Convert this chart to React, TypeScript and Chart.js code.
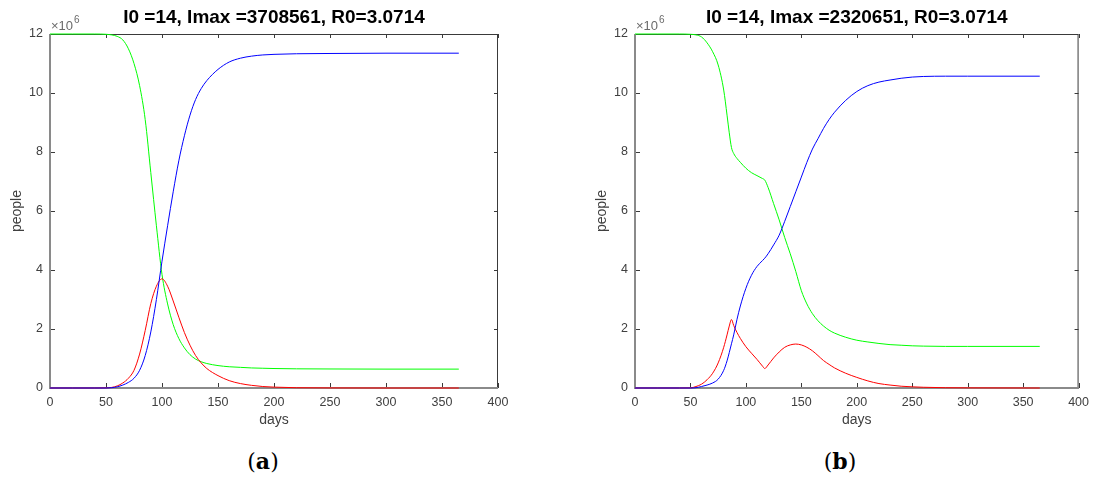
import { useEffect, useRef } from "react";
import { Chart, registerables } from "chart.js";

Chart.register(...registerables);

// ---------- texts & ticks ----------
const xTickValues = [0, 50, 100, 150, 200, 250, 300, 350, 400];
const yTickValues = [0, 2, 4, 6, 8, 10, 12];
const titleA = "I0 =14, Imax =3708561, R0=3.0714";
const titleB = "I0 =14, Imax =2320651, R0=3.0714";
const xAxisLabel = "days";
const yAxisLabel = "people";
const exponentBase = "×10";
const exponentPower = "6";
const captionA = "a";
const captionB = "b";

// ---------- panel (a) data, values in millions of people ----------
const daysA = [0, 20, 40, 50, 55, 60, 65, 70, 75, 80, 85, 90, 95, 100, 105, 110, 115, 120, 125, 130, 135, 140, 150, 160, 170, 180, 190, 200, 220, 250, 300, 365];
const susceptibleA = [12, 12, 12, 11.99, 11.97, 11.92, 11.8, 11.5, 11.0, 10.25, 9.1, 7.3, 5.5, 3.85, 2.85, 2.15, 1.68, 1.36, 1.13, 0.98, 0.89, 0.83, 0.76, 0.72, 0.7, 0.68, 0.67, 0.66, 0.65, 0.645, 0.64, 0.64];
const infectedA = [0, 0, 0, 0.005, 0.02, 0.07, 0.17, 0.33, 0.6, 1.15, 1.95, 2.86, 3.45, 3.7, 3.45, 2.95, 2.4, 1.88, 1.45, 1.1, 0.85, 0.66, 0.42, 0.25, 0.15, 0.09, 0.05, 0.03, 0.01, 0.003, 0, 0];
const recoveredA = [0, 0, 0, 0, 0.01, 0.04, 0.1, 0.19, 0.33, 0.6, 1.1, 1.9, 3.0, 4.3, 5.5, 6.65, 7.7, 8.55, 9.25, 9.78, 10.15, 10.42, 10.8, 11.05, 11.18, 11.25, 11.29, 11.31, 11.33, 11.34, 11.35, 11.35];

// ---------- panel (b) data, values in millions of people ----------
const daysB = [0, 20, 40, 50, 55, 60, 65, 70, 75, 80, 83, 85, 87, 89, 92, 95, 100, 105, 110, 115, 117, 120, 125, 130, 135, 140, 145, 150, 155, 160, 165, 170, 175, 180, 190, 200, 210, 220, 230, 240, 250, 260, 280, 300, 365];
const susceptibleB = [12, 12, 12, 11.99, 11.97, 11.9, 11.7, 11.4, 10.95, 10.1, 9.25, 8.65, 8.15, 7.95, 7.78, 7.65, 7.45, 7.3, 7.2, 7.1, 7.05, 6.8, 6.25, 5.7, 5.1, 4.55, 3.95, 3.3, 2.85, 2.52, 2.28, 2.1, 1.96, 1.86, 1.72, 1.62, 1.56, 1.51, 1.47, 1.45, 1.43, 1.42, 1.41, 1.41, 1.41];
const infectedB = [0, 0, 0, 0.005, 0.05, 0.13, 0.28, 0.5, 0.85, 1.38, 1.8, 2.1, 2.32, 2.12, 1.88, 1.68, 1.4, 1.18, 0.97, 0.74, 0.66, 0.78, 1.02, 1.22, 1.38, 1.46, 1.49, 1.46, 1.38, 1.26, 1.1, 0.93, 0.8, 0.68, 0.5, 0.36, 0.24, 0.15, 0.1, 0.06, 0.04, 0.025, 0.01, 0.005, 0];
const recoveredB = [0, 0, 0, 0, 0.01, 0.05, 0.1, 0.17, 0.3, 0.6, 0.92, 1.2, 1.5, 1.8, 2.33, 2.78, 3.38, 3.82, 4.12, 4.32, 4.4, 4.55, 4.85, 5.18, 5.65, 6.15, 6.65, 7.15, 7.65, 8.1, 8.45, 8.8, 9.1, 9.35, 9.75, 10.05, 10.25, 10.37, 10.44, 10.5, 10.54, 10.56, 10.57, 10.57, 10.57];

const SANS = "'Liberation Sans', Arial, Helvetica, sans-serif";
const TEXT_GREY = "#404040";
const CANVAS_H = 440;

const matlabAxesPlugin = {
  id: "matlabAxes",
  beforeDatasetsDraw(chart: any) {
    const { ctx, chartArea } = chart;
    const { left, right, top, bottom } = chartArea;
    const xs = chart.scales.x;
    const ys = chart.scales.y;
    ctx.save();
    ctx.lineWidth = 1;
    ctx.strokeStyle = "#3a3a3a";
    ctx.beginPath();
    xs.ticks.forEach((t: any) => {
      const px = Math.round(xs.getPixelForValue(t.value)) + 0.5;
      ctx.moveTo(px, bottom);
      ctx.lineTo(px, bottom - 5);
      ctx.moveTo(px, top);
      ctx.lineTo(px, top + 4);
    });
    ys.ticks.forEach((t: any) => {
      const py = Math.round(ys.getPixelForValue(t.value)) + 0.5;
      ctx.moveTo(left, py);
      ctx.lineTo(left + 5, py);
      ctx.moveTo(right, py);
      ctx.lineTo(right - 4, py);
    });
    ctx.stroke();
    ctx.beginPath();
    ctx.moveTo(left, top + 0.5);
    ctx.lineTo(right - 0.5, top + 0.5);
    ctx.lineTo(right - 0.5, bottom);
    ctx.stroke();
    ctx.lineWidth = 2;
    ctx.strokeStyle = "#8a8a8a";
    ctx.beginPath();
    ctx.moveTo(left, top);
    ctx.lineTo(left, bottom);
    ctx.lineTo(right, bottom);
    ctx.stroke();
    ctx.restore();
  },
};

type PanelProps = {
  title: string;
  days: number[];
  susceptible: number[];
  infected: number[];
  recovered: number[];
  canvasLeft: number;
  canvasWidth: number;
  padRight: number;
};

function SirChart(props: PanelProps) {
  const ref = useRef<HTMLCanvasElement>(null);
  useEffect(() => {
    const canvas = ref.current;
    if (!canvas) return;
    const { days } = props;
    const toPts = (vals: number[]) => days.map((d, k) => ({ x: d, y: vals[k] }));
    const common = {
      borderWidth: 1,
      pointRadius: 0,
      fill: false,
      cubicInterpolationMode: "monotone" as const,
      clip: false as any,
    };
    const chart = new Chart(canvas, {
      type: "line",
      data: {
        datasets: [
          { ...common, label: "R", data: toPts(props.recovered), borderColor: "#0000ff", order: 0 },
          { ...common, label: "I", data: toPts(props.infected), borderColor: "#ff0000", order: 1 },
          { ...common, label: "S", data: toPts(props.susceptible), borderColor: "#00ff00", order: 2 },
        ],
      },
      options: {
        animation: false,
        responsive: false,
        maintainAspectRatio: false,
        devicePixelRatio: 1,
        layout: { padding: { left: 0, right: props.padRight, top: 0, bottom: 0 } },
        plugins: {
          legend: { display: false },
          tooltip: { enabled: false },
          title: {
            display: true,
            text: props.title,
            fullSize: false,
            color: "#000000",
            font: { family: SANS, size: 19, weight: "bold", lineHeight: 1.2 },
            padding: { top: 6.6, bottom: 4.6 },
          },
        },
        scales: {
          x: {
            type: "linear",
            min: 0,
            max: 400,
            afterBuildTicks: (s: any) => {
              s.ticks = xTickValues.map((v) => ({ value: v }));
            },
            afterFit: (s: any) => {
              s.height = 52;
            },
            grid: { display: false, drawTicks: false },
            border: { display: false },
            ticks: {
              padding: 7,
              color: TEXT_GREY,
              font: { family: SANS, size: 12.5 },
              maxRotation: 0,
              autoSkip: false,
            },
            title: {
              display: true,
              text: xAxisLabel,
              color: TEXT_GREY,
              font: { family: SANS, size: 14, lineHeight: 1.2 },
              padding: { top: 0, bottom: 11.3 },
            },
          },
          y: {
            type: "linear",
            min: 0,
            max: 12,
            afterBuildTicks: (s: any) => {
              s.ticks = yTickValues.map((v) => ({ value: v }));
            },
            afterFit: (s: any) => {
              s.width = 50;
            },
            grid: { display: false, drawTicks: false },
            border: { display: false },
            ticks: {
              padding: 7,
              color: TEXT_GREY,
              font: { family: SANS, size: 12.5 },
              autoSkip: false,
            },
            title: {
              display: true,
              text: yAxisLabel,
              color: TEXT_GREY,
              font: { family: SANS, size: 14, lineHeight: 1.2 },
              padding: { top: 8.5, bottom: 0 },
            },
          },
        },
      } as any,
      plugins: [matlabAxesPlugin],
    });
    return () => chart.destroy();
  }, []);
  return (
    <canvas
      ref={ref}
      width={props.canvasWidth}
      height={CANVAS_H}
      style={{ position: "absolute", left: props.canvasLeft, top: 0, width: props.canvasWidth, height: CANVAS_H }}
    />
  );
}

function Exponent({ x }: { x: number }) {
  return (
    <>
      <span style={{ position: "absolute", left: x, top: 19, fontFamily: SANS, fontSize: 13, lineHeight: "13px", color: "#6a6a6a", whiteSpace: "nowrap" }}>
        {exponentBase}
      </span>
      <span style={{ position: "absolute", left: x + 23, top: 15, fontFamily: SANS, fontSize: 10, lineHeight: "10px", color: "#6a6a6a" }}>
        {exponentPower}
      </span>
    </>
  );
}

function Caption({ cx, letter }: { cx: number; letter: string }) {
  return (
    <div
      style={{
        position: "absolute",
        left: cx - 50,
        width: 100,
        top: 450,
        textAlign: "center",
        fontFamily: "'DejaVu Serif', 'Liberation Serif', serif",
        fontSize: 22,
        lineHeight: "22px",
        color: "#000",
      }}
    >
      (<b>{letter}</b>)
    </div>
  );
}

export default function App() {
  return (
    <div style={{ position: "absolute", left: 0, top: 0, width: 1096, height: 477, background: "#ffffff", overflow: "hidden" }}>
      <SirChart
        title={titleA}
        days={daysA}
        susceptible={susceptibleA}
        infected={infectedA}
        recovered={recoveredA}
        canvasLeft={0}
        canvasWidth={548}
        padRight={50}
      />
      <SirChart
        title={titleB}
        days={daysB}
        susceptible={susceptibleB}
        infected={infectedB}
        recovered={recoveredB}
        canvasLeft={585}
        canvasWidth={511}
        padRight={14}
      />
      <Exponent x={51} />
      <Exponent x={636} />
      <Caption cx={263} letter={captionA} />
      <Caption cx={840} letter={captionB} />
    </div>
  );
}
